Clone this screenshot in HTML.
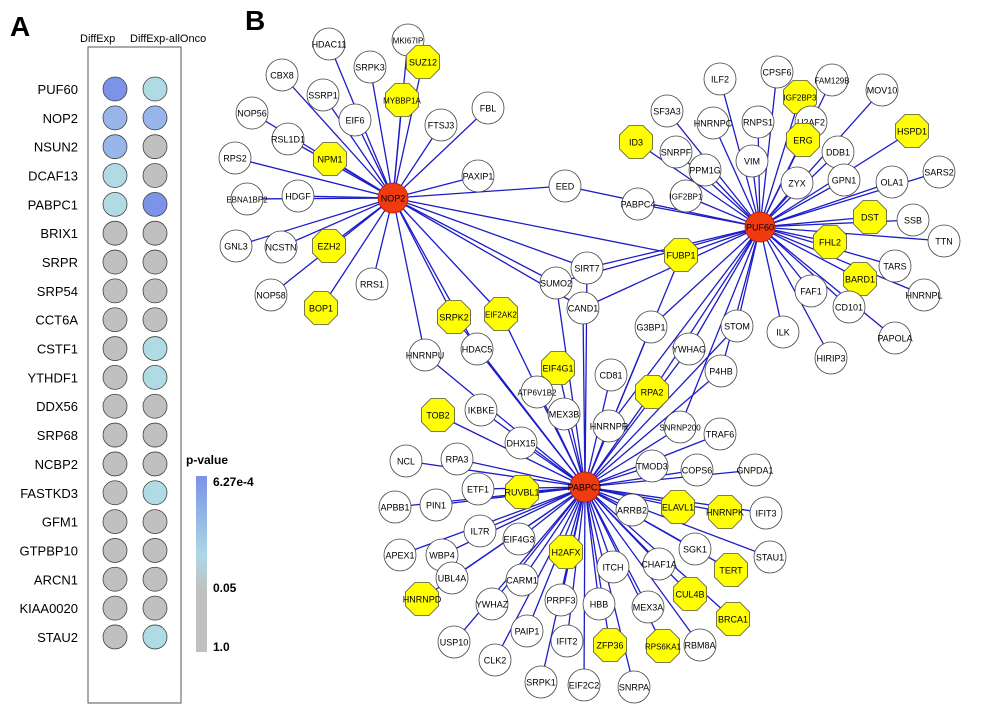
<!DOCTYPE html>
<html><head><meta charset="utf-8">
<style>
body{margin:0;background:#fff;width:993px;height:726px;overflow:hidden;font-family:"Liberation Sans",sans-serif;}
svg{display:block}
</style></head>
<body>
<svg id="fig" width="993" height="726" viewBox="0 0 993 726">
<text x="10" y="36" font-size="28" font-weight="bold">A</text>
<text x="245" y="30" font-size="28" font-weight="bold">B</text>
<text x="80" y="42" font-size="11">DiffExp</text>
<text x="130" y="42" font-size="11">DiffExp-allOnco</text>
<rect x="88" y="47" width="93" height="656" fill="none" stroke="#555" stroke-width="1"/>
<g id="dots"></g>
<defs><linearGradient id="pg" x1="0" y1="0" x2="0" y2="1">
<stop offset="0" stop-color="#7b93e8"/><stop offset="0.45" stop-color="#add8e6"/><stop offset="0.65" stop-color="#c0c0c0"/><stop offset="1" stop-color="#c0c0c0"/></linearGradient></defs>
<text x="186" y="464" font-size="12" font-weight="bold">p-value</text>
<rect x="196" y="476" width="11" height="176" fill="url(#pg)"/>
<text x="213" y="486" font-size="12" font-weight="bold">6.27e-4</text>
<text x="213" y="592" font-size="12" font-weight="bold">0.05</text>
<text x="213" y="651" font-size="12" font-weight="bold">1.0</text>
<g id="edges"></g>
<g id="nodes"></g>
</svg>
<script>
const genes=["PUF60","NOP2","NSUN2","DCAF13","PABPC1","BRIX1","SRPR","SRP54","CCT6A","CSTF1","YTHDF1","DDX56","SRP68","NCBP2","FASTKD3","GFM1","GTPBP10","ARCN1","KIAA0020","STAU2"];
// color level: 0 gray, 1 light blue, 2 mid blue, 3 strong blue
const diffExp=[3,2,2,1,1,0,0,0,0,0,0,0,0,0,0,0,0,0,0,0];
const diffExpAllOnco=[1,2,0,0,3,0,0,0,0,1,1,0,0,0,1,0,0,0,0,1];
const pal=["#c0c0c0","#b0dbe4","#98b6ea","#7b93e8"];
const NS="http://www.w3.org/2000/svg";
function mk(t,a,p){const e=document.createElementNS(NS,t);for(const k in a)e.setAttribute(k,a[k]);p.appendChild(e);return e;}
const dots=document.getElementById('dots');
const rowY=i=>89+i*28.84;
genes.forEach((g,i)=>{
 const t=mk('text',{x:78,y:rowY(i)+5,'font-size':13,'text-anchor':'end'},dots);t.textContent=g;
 
 
 const c1=mk('circle',{cx:115,cy:rowY(i),r:12,fill:pal[diffExp[i]],stroke:'#444','stroke-width':0.8},dots);
 
 
 const c2=mk('circle',{cx:155,cy:rowY(i),r:12,fill:pal[diffExpAllOnco[i]],stroke:'#444','stroke-width':0.8},dots);
 
 
});
// network: name,x,y,type(c circle,y yellow oct,h hub),hubs
const hubs={N:[393,198],P:[760,227],A:[585,487]};
const net=[
["HDAC11",329,44,"c","N"],["MKI67IP",408,40,"c","N"],["SUZ12",423,62,"y","N"],["SRPK3",370,67,"c","N"],["CBX8",282,75,"c","N"],["SSRP1",323,95,"c","N"],["MYBBP1A",402,100,"y","N"],["EIF6",355,120,"c","N"],["FTSJ3",441,125,"c","N"],["FBL",488,108,"c","N"],["NOP56",252,113,"c","N"],["RSL1D1",288,139,"c","N"],["NPM1",330,159,"y","N"],["RPS2",235,158,"c","N"],["PAXIP1",478,176,"c","N"],["HDGF",298,196,"c","N"],["EBNA1BP2",247,199,"c","N"],["EZH2",329,246,"y","N"],["GNL3",236,246,"c","N"],["NCSTN",281,247,"c","N"],["RRS1",372,284,"c","N"],["NOP58",271,295,"c","N"],["BOP1",321,308,"y","N"],["SRPK2",454,317,"y","NA"],["EIF2AK2",501,314,"y","NA"],["HNRNPU",425,355,"c","NA"],["HDAC5",477,349,"c","NA"],["EED",565,186,"c","NP"],
["ILF2",720,79,"c","P"],["CPSF6",777,72,"c","P"],["FAM129B",832,80,"c","P"],["SF3A3",667,111,"c","P"],["HNRNPC",713,123,"c","P"],["RNPS1",758,122,"c","P"],["IGF2BP3",800,97,"y","P"],["U2AF2",811,122,"c","P"],["MOV10",882,90,"c","P"],["ID3",636,142,"y","P"],["SNRPF",676,152,"c","P"],["VIM",752,161,"c","P"],["ERG",803,140,"y","P"],["DDB1",838,152,"c","P"],["HSPD1",912,131,"y","P"],["PPM1G",705,170,"c","P"],["GPN1",844,180,"c","P"],["OLA1",892,182,"c","P"],["SARS2",939,172,"c","P"],["ZYX",797,183,"c","P"],["IGF2BP1",686,196,"c","P"],["PABPC4",638,204,"c","P"],["DST",870,217,"y","P"],["SSB",913,220,"c","P"],["FHL2",830,242,"y","P"],["TTN",944,241,"c","P"],["FUBP1",681,255,"y","PAN"],["TARS",895,266,"c","P"],["BARD1",860,279,"y","P"],["HNRNPL",924,295,"c","P"],["FAF1",811,291,"c","P"],["STOM",737,326,"c","PA"],["CD101",849,307,"c","P"],["ILK",783,332,"c","P"],["HIRIP3",831,358,"c","P"],["PAPOLA",895,338,"c","P"],["SIRT7",587,268,"c","NPA"],["SUMO2",556,283,"c","NPA"],["CAND1",583,308,"c","NPA"],["G3BP1",651,327,"c","PA"],["YWHAG",689,349,"c","PA"],["P4HB",721,371,"c","PA"],
["EIF4G1",558,368,"y","A"],["CD81",611,375,"c","A"],["ATP6V1B2",537,392,"c","A"],["MEX3B",564,414,"c","A"],["RPA2",652,392,"y","AP"],["HNRNPR",609,426,"c","AP"],["SNRNP200",680,427,"c","AP"],["TRAF6",720,434,"c","A"],["TOB2",438,415,"y","A"],["IKBKE",481,410,"c","A"],["DHX15",521,443,"c","A"],["NCL",406,461,"c","A"],["RPA3",457,459,"c","A"],["TMOD3",652,466,"c","A"],["COPS6",697,470,"c","A"],["GNPDA1",755,470,"c","A"],["ETF1",478,489,"c","A"],["RUVBL1",522,492,"y","A"],["APBB1",395,507,"c","A"],["PIN1",436,505,"c","A"],["ELAVL1",678,507,"y","A"],["HNRNPK",725,512,"y","A"],["IFIT3",766,513,"c","A"],["ARRB2",632,510,"c","A"],["IL7R",480,531,"c","A"],["EIF4G3",519,539,"c","A"],["SGK1",695,549,"c","A"],["STAU1",770,557,"c","A"],["APEX1",400,555,"c","A"],["WBP4",442,555,"c","A"],["H2AFX",566,552,"y","A"],["CHAF1A",659,564,"c","A"],["TERT",731,570,"y","A"],["UBL4A",452,578,"c","A"],["CARM1",522,580,"c","A"],["ITCH",613,567,"c","A"],["CUL4B",690,594,"y","A"],["HNRNPD",422,599,"y","A"],["YWHAZ",492,604,"c","A"],["PRPF3",561,600,"c","A"],["HBB",599,604,"c","A"],["MEX3A",648,607,"c","A"],["BRCA1",733,619,"y","A"],["PAIP1",527,631,"c","A"],["IFIT2",567,641,"c","A"],["ZFP36",610,645,"y","A"],["RPS6KA1",663,646,"y","A"],["RBM8A",700,645,"c","A"],["USP10",454,642,"c","A"],["CLK2",495,660,"c","A"],["SRPK1",541,682,"c","A"],["EIF2C2",584,685,"c","A"],["SNRPA",634,687,"c","A"]
];
const eg=document.getElementById('edges'),ng=document.getElementById('nodes');
net.forEach(n=>{for(const h of n[4]){const [hx,hy]=hubs[h];
 const l=mk('line',{x1:hx,y1:hy,x2:n[1],y2:n[2],stroke:'#1c1cc8','stroke-width':1.3},eg);
 
 }});
function oct(x,y,r){let p=[];for(let i=0;i<8;i++){const a=Math.PI/8+i*Math.PI/4;p.push((x+r*Math.cos(a)).toFixed(1)+','+(y+r*Math.sin(a)).toFixed(1));}return p.join(' ');}
function label(name,x,y,fs){const t=mk('text',{x:x,y:y+3.3,'font-size':fs,'text-anchor':'middle'},ng);t.textContent=name;
 
 }
net.forEach(n=>{const [name,x,y,t]=n;let e;
 if(t==='y'){e=mk('polygon',{points:oct(x,y,18),fill:'#ffff00',stroke:'#555','stroke-width':0.8},ng);}
 else{e=mk('circle',{cx:x,cy:y,r:16,fill:'#fff',stroke:'#444','stroke-width':0.8},ng);}
 
 
 label(name,x,y,name.length>6?8:9);
});
[["NOP2","N"],["PUF60","P"],["PABPC1","A"]].forEach(h=>{const [x,y]=hubs[h[1]];
 const c=mk('circle',{cx:x,cy:y,r:15,fill:'#f03a10',stroke:'#a02000','stroke-width':0.8},ng);
 
 
 label(h[0],x,y,9);});
</script>
</body></html>
